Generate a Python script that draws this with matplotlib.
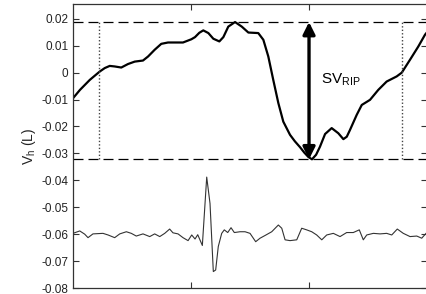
import matplotlib
matplotlib.use('Agg')
import matplotlib.pyplot as plt

plt.rcParams['font.family'] = ['Liberation Sans', 'DejaVu Sans']
plt.rcParams['mathtext.fontset'] = 'custom'
plt.rcParams['mathtext.rm'] = 'Liberation Sans'

# upper trace (thick): time vs volume
upper_t = [0.000, 0.059, 0.142, 0.226, 0.269, 0.311, 0.353, 0.409, 0.466, 0.523,
           0.593, 0.636, 0.692, 0.748, 0.805, 0.932, 1.003, 1.034, 1.070, 1.104, 1.147,
           1.189, 1.240, 1.274, 1.316, 1.373, 1.430, 1.486, 1.570, 1.613, 1.655,
           1.697, 1.740, 1.782, 1.839, 1.880, 1.924, 1.960, 1.994, 2.025, 2.060, 2.093, 2.136, 2.192,
           2.248, 2.291, 2.320, 2.347, 2.404, 2.447, 2.517, 2.587, 2.658, 2.743, 2.786,
           2.856, 2.926, 2.983, 3.000]
upper_v = [-0.0095, -0.0064, -0.0027, 0.0004, 0.0017, 0.0025, 0.0023, 0.0019, 0.0032, 0.0041,
           0.0045, 0.0060, 0.0085, 0.0107, 0.0112, 0.0112, 0.0124, 0.0132, 0.0148, 0.0157, 0.0147,
           0.0126, 0.0116, 0.0132, 0.0171, 0.0188, 0.0171, 0.0149, 0.0147, 0.0122, 0.0060,
           -0.0027, -0.0113, -0.0182, -0.0231, -0.0255, -0.0277, -0.0297, -0.0313, -0.0322, -0.0305, -0.0275, -0.0228, -0.0206,
           -0.0225, -0.0247, -0.0238, -0.0213, -0.0157, -0.0120, -0.0101, -0.0064, -0.0033, -0.0014, 0.0000,
           0.0048, 0.0097, 0.0141, 0.0150]

# lower trace (thin)
lower_t = [0.000, 0.057, 0.099, 0.127, 0.169, 0.254, 0.297, 0.353, 0.396, 0.452,
           0.494, 0.536, 0.593, 0.650, 0.692, 0.735, 0.777, 0.819, 0.847, 0.890,
           0.932, 0.975, 1.006, 1.034, 1.057, 1.096, 1.133, 1.161, 1.189, 1.209,
           1.231, 1.260, 1.282, 1.311, 1.339, 1.367, 1.415, 1.458, 1.500, 1.548,
           1.585, 1.627, 1.684, 1.740, 1.769, 1.797, 1.839, 1.896, 1.938, 1.980,
           2.023, 2.065, 2.108, 2.150, 2.206, 2.263, 2.319, 2.375, 2.426, 2.460,
           2.489, 2.545, 2.602, 2.658, 2.701, 2.748, 2.799, 2.856, 2.913, 2.955,
           2.992]
lower_v = [-0.0597, -0.0588, -0.0600, -0.0613, -0.0599, -0.0597, -0.0603, -0.0613, -0.0599, -0.0591,
           -0.0597, -0.0607, -0.0599, -0.0609, -0.0599, -0.0609, -0.0597, -0.0581, -0.0595, -0.0599,
           -0.0613, -0.0624, -0.0603, -0.0618, -0.0602, -0.0642, -0.0388, -0.0486, -0.0739, -0.0733,
           -0.0646, -0.0597, -0.0584, -0.0594, -0.0576, -0.0594, -0.0591, -0.0591, -0.0597, -0.0628,
           -0.0615, -0.0605, -0.0591, -0.0566, -0.0578, -0.0621, -0.0624, -0.0621, -0.0578, -0.0584,
           -0.0591, -0.0603, -0.0621, -0.0603, -0.0597, -0.0609, -0.0594, -0.0594, -0.0584, -0.0621,
           -0.0603, -0.0597, -0.0599, -0.0597, -0.0603, -0.0581, -0.0597, -0.0609, -0.0607, -0.0615,
           -0.0597]

sv_top = 0.0188
sv_bottom = -0.0322
sv_t = 2.0
window_t = [0.223, 2.788]

yticks = [-0.08, -0.07, -0.06, -0.05, -0.04, -0.03, -0.02, -0.01, 0, 0.01, 0.02]
ytick_labels = ['-0.08', '-0.07', '-0.06', '-0.05', '-0.04', '-0.03', '-0.02', '-0.01', '0', '0.01', '0.02']

fig = plt.figure(figsize=(4.26, 2.94), dpi=100)
ax = fig.add_axes([0.1714, 0.0204, 0.831, 0.966])

ax.plot(upper_t, upper_v, color='black', lw=1.6, solid_joinstyle='round')
ax.plot(lower_t, lower_v, color='#333333', lw=0.8)

# SV reference lines
for v in [sv_top, sv_bottom]:
    ax.axhline(v, color='black', lw=0.9, ls=(0, (8, 4)))
for t in window_t:
    ax.plot([t, t], [sv_bottom, sv_top], color='#444444', lw=1.0, ls=(0, (1, 1.5)))

ax.annotate('', xy=(sv_t, sv_top), xytext=(sv_t, sv_bottom),
            arrowprops=dict(arrowstyle='<|-|>', lw=2.4, color='black',
                            mutation_scale=18, shrinkA=0, shrinkB=0))
ax.text(2.10, -0.0027, r'SV$_\mathrm{RIP}$', fontsize=11, va='center', ha='left')

ax.set_xlim(0, 3)
ax.set_ylim(-0.08, 0.0255)
ax.set_xticks([1, 2])
ax.set_xticklabels([])
ax.set_yticks(yticks)
ax.set_yticklabels(ytick_labels)
ax.tick_params(direction='in', length=4, width=0.8, color='#333333',
               labelsize=8.5, labelcolor='#222222', top=True, right=True)
ax.set_ylabel(r'V$_\mathrm{h}$ (L)', fontsize=10, color='#222222', labelpad=2)
for s in ax.spines.values():
    s.set_color('#333333')
    s.set_linewidth(0.9)

fig.savefig('out.png', dpi=100)
